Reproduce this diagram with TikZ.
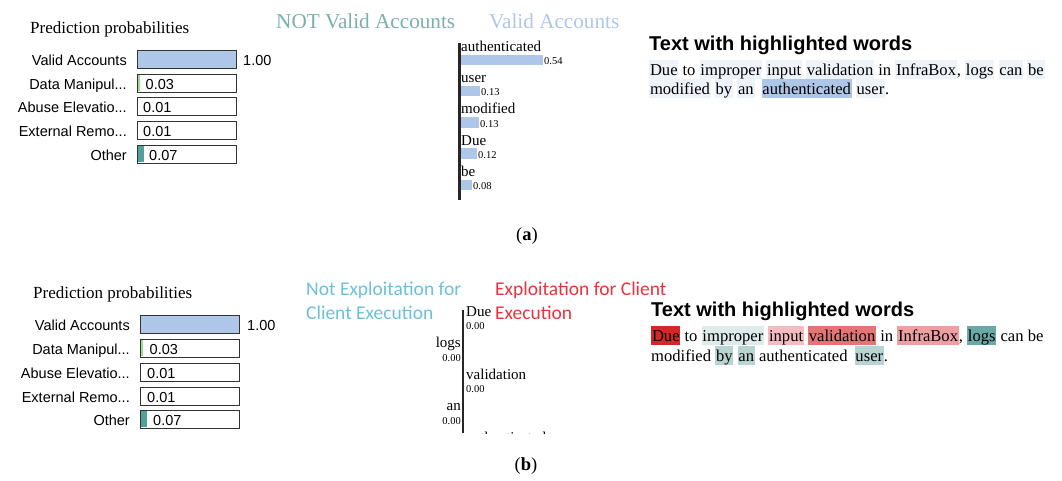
\documentclass[tikz,border=0pt]{standalone}
\usepackage{fontspec}
\setmainfont{Liberation Serif}
\setsansfont{Liberation Sans}
\newfontfamily\calibfont{Carlito}
\definecolor{lblue}{HTML}{AEC7E8}
\definecolor{faint}{HTML}{EEF3FA}
\definecolor{nvteal}{HTML}{7AB0AB}
\definecolor{sgreen}{HTML}{98DF8A}
\definecolor{steal}{HTML}{52A09C}
\definecolor{boxgray}{HTML}{333333}
\definecolor{necyan}{HTML}{6DC0DA}
\definecolor{exred}{HTML}{E8343C}
\definecolor{hdue}{HTML}{D62728}
\definecolor{himp}{HTML}{DDEBEA}
\definecolor{hinp}{HTML}{F4BCC0}
\definecolor{hval}{HTML}{E57476}
\definecolor{hinf}{HTML}{EE9FA3}
\definecolor{hlogs}{HTML}{6BA9A6}
\definecolor{hby}{HTML}{B7D4D3}
\newcommand{\hlw}[2]{{\setlength{\fboxsep}{0.8pt}\colorbox{#1}{\rule[-2.7pt]{0pt}{17.4pt}#2}}}
\begin{document}
\begin{tikzpicture}[x=1pt,y=-1pt,
  ttl/.style={anchor=base west, inner sep=0, font=\fontsize{17}{20}\selectfont},
  lbl/.style={anchor=base east, inner sep=0, font=\sffamily\fontsize{14.5}{17}\selectfont},
  pval/.style={anchor=base west, inner sep=0, font=\sffamily\fontsize{14.5}{17}\selectfont},
  pbox/.style={draw=boxgray, line width=1.4pt, minimum width=99, minimum height=18, inner sep=0, anchor=north west},
  wlbl/.style={anchor=base west, inner sep=0, font=\fontsize{15}{18}\selectfont},
  wlblr/.style={anchor=base east, inner sep=0, font=\fontsize{15}{18}\selectfont},
  wval/.style={anchor=base west, inner sep=0, font=\fontsize{10.5}{12}\selectfont},
  wvalr/.style={anchor=base east, inner sep=0, font=\fontsize{10.5}{12}\selectfont},
  clsa/.style={anchor=base west, inner sep=0, font=\fontsize{21.2}{24}\selectfont},
  clsb/.style={anchor=base west, inner sep=0, align=left, font=\calibfont\fontsize{19.5}{24}\selectfont},
  hdr/.style={anchor=base west, inner sep=0, font=\sffamily\bfseries\fontsize{20}{22}\selectfont},
  para/.style={anchor=base west, inner sep=0, font=\fontsize{16.6}{19}\selectfont},
  captxt/.style={anchor=center, inner sep=0, font=\fontsize{18.5}{21}\selectfont},
  axisline/.style={line width=2.2pt, black!85}
]
\useasboundingbox (0,0) rectangle (1062,480);

% ================= (a) =================
\node[ttl] (pta) at (30,33) {Prediction probabilities};
\node[pbox, fill=lblue] (a1) at (137,50) {};
\node[pbox] (a2) at (137,74) {};
\node[pbox] (a3) at (137,97) {};
\node[pbox] (a4) at (137,121) {};
\node[pbox] (a5) at (137,145) {};
\fill[sgreen] ([shift={(0.7,0.7)}]a2.north west) rectangle ++(2.6,16.6);
\fill[steal] ([shift={(0.7,0.7)}]a5.north west) rectangle ++(6,16.6);
\node[lbl] (la1) at (127,65) {Valid Accounts};
\node[lbl] (la2) at (127,89) {Data Manipul...};
\node[lbl] (la3) at (127,112) {Abuse Elevatio...};
\node[lbl] (la4) at (127,136) {External Remo...};
\node[lbl] (la5) at (127,160) {Other};
\node[pval] (va1) at (243,65) {1.00};
\node[pval] (va2) at (145.5,89) {0.03};
\node[pval] (va3) at (143,112) {0.01};
\node[pval] (va4) at (143,136) {0.01};
\node[pval] (va5) at (149,160) {0.07};

\node[clsa, text=nvteal] (ca1) at (276,28) {NOT Valid Accounts};
\node[clsa, text=lblue] (ca2) at (489,28) {Valid Accounts};

\coordinate (axAtop) at (459.5,43);
\coordinate (axAbot) at (459.5,200);
\draw[axisline] (axAtop) -- (axAbot);
\node[wlbl] (wa1) at (461,51) {authenticated};
\fill[lblue] (461,55) rectangle (543,65);
\node[wval] (wv1) at (544,64.5) {0.54};
\node[wlbl] (wa2) at (461,82) {user};
\fill[lblue] (461,86) rectangle (480,96);
\node[wval] (wv2) at (481,95.5) {0.13};
\node[wlbl] (wa3) at (461,113) {modified};
\fill[lblue] (461,117) rectangle (479,128);
\node[wval] (wv3) at (480,127.5) {0.13};
\node[wlbl] (wa4) at (461,145) {Due};
\fill[lblue] (461,148) rectangle (477,159);
\node[wval] (wv4) at (478,158.5) {0.12};
\node[wlbl] (wa5) at (461,176) {be};
\fill[lblue] (461,180) rectangle (472,190);
\node[wval] (wv5) at (473,189.5) {0.08};

\node[hdr] (ha) at (649,50) {Text with highlighted words};
\node[para] (ta1) at (649,75) {\hlw{faint}{Due} to \hlw{faint}{improper} \hlw{faint}{input} \hlw{faint}{validation} in \hlw{faint}{InfraBox}, \hlw{faint}{logs} \hlw{faint}{can} \hlw{faint}{be}};
\node[para] (ta2) at (649,94) {\hlw{faint}{modified} \hlw{faint}{by} \hlw{faint}{an}\hspace{3pt} \hlw{lblue}{authenticated} \hlw{faint}{user}.};

\node[captxt] (capa) at (527,236) {(\textbf{a})};

% ================= (b) =================
\node[ttl] (ptb) at (33,298) {Prediction probabilities};
\node[pbox, fill=lblue] (b1) at (140,315) {};
\node[pbox] (b2) at (140,339) {};
\node[pbox] (b3) at (140,363) {};
\node[pbox] (b4) at (140,387) {};
\node[pbox] (b5) at (140,410) {};
\fill[sgreen] ([shift={(0.7,0.7)}]b2.north west) rectangle ++(2.6,16.6);
\fill[steal] ([shift={(0.7,0.7)}]b5.north west) rectangle ++(6,16.6);
\node[lbl] (lb1) at (130,330) {Valid Accounts};
\node[lbl] (lb2) at (130,354) {Data Manipul...};
\node[lbl] (lb3) at (130,378) {Abuse Elevatio...};
\node[lbl] (lb4) at (130,402) {External Remo...};
\node[lbl] (lb5) at (130,425) {Other};
\node[pval] (vb1) at (247,330) {1.00};
\node[pval] (vb2) at (149.5,354) {0.03};
\node[pval] (vb3) at (147,378) {0.01};
\node[pval] (vb4) at (147,402) {0.01};
\node[pval] (vb5) at (153,425) {0.07};

\node[clsb, text=necyan] (cb1) at (306,319) {Not Exploitation for\\Client Execution};
\node[clsb, text=exred] (cb2) at (495,319) {Exploitation for Client\\Execution};

\coordinate (axBtop) at (463,310);
\coordinate (axBbot) at (463,433);
\draw[axisline] (axBtop) -- (axBbot);
\node[wlbl] (wb1) at (466,316) {Due};
\node[wval] (wbv1) at (466,329) {0.00};
\node[wlblr] (wb2) at (461,347) {logs};
\node[wvalr] (wbv2) at (461,361) {0.00};
\node[wlbl] (wb3) at (466,379) {validation};
\node[wval] (wbv3) at (466,392) {0.00};
\node[wlblr] (wb4) at (461,410) {an};
\node[wvalr] (wbv4) at (461,424) {0.00};
\begin{scope}
\clip (464,300) rectangle (600,433.5);
\node[wlbl] (wb5) at (466,442) {authenticated};
\end{scope}

\node[hdr] (hb) at (651,316) {Text with highlighted words};
\node[para] (tb1) at (651,341) {\hlw{hdue}{Due} to \hlw{himp}{improper} \hlw{hinp}{input} \hlw{hval}{validation} in \hlw{hinf}{InfraBox}, \hlw{hlogs}{logs} can be};
\node[para] (tb2) at (651,361) {modified \hlw{hby}{by} \hlw{hby}{an} authenticated\hspace{3pt} \hlw{hby}{user}.};

\node[captxt] (capb) at (526,466) {(\textbf{b})};
\end{tikzpicture}
\end{document}
